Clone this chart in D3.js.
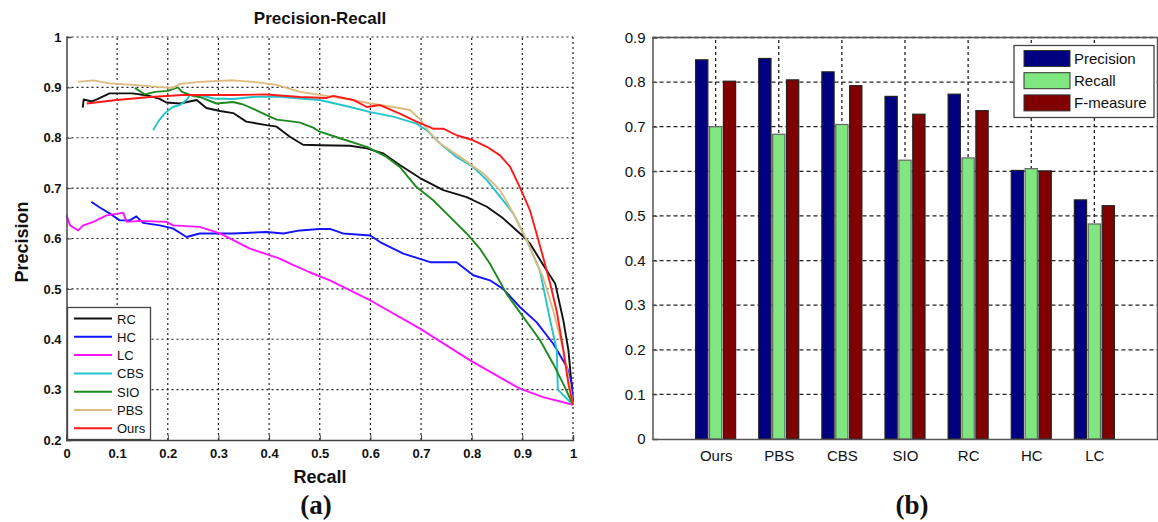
<!DOCTYPE html>
<html>
<head>
<meta charset="utf-8">
<script src="https://cdn.jsdelivr.net/npm/d3@7/dist/d3.min.js"></script>
<style>
  body{margin:0;background:#fff;}
  svg{display:block;font-family:Arial,"Liberation Sans",sans-serif;}
</style>
</head>
<body>
<svg id="chart" width="1158" height="522"></svg>
<script>
// ---- data: (a) precision-recall curves, [recall, precision]
var prNames = ["RC","HC","LC","CBS","SIO","PBS","Ours"];
var prColors = ["#111111","#1414ff","#ff14ff","#22c4c8","#1e8a1e","#dfba80","#ff1a1a"];
var rcCurve = [[0.032,0.86],[0.034,0.876],[0.05,0.872],[0.06,0.876],[0.085,0.888],[0.13,0.888],[0.16,0.884],[0.184,0.877],[0.197,0.87],[0.224,0.868],[0.257,0.875],[0.276,0.859],[0.303,0.853],[0.329,0.849],[0.355,0.832],[0.395,0.825],[0.415,0.822],[0.441,0.802],[0.467,0.786],[0.5,0.785],[0.56,0.784],[0.593,0.779],[0.625,0.769],[0.658,0.746],[0.698,0.72],[0.744,0.696],[0.79,0.682],[0.83,0.663],[0.862,0.64],[0.902,0.604],[0.915,0.59],[0.941,0.548],[0.965,0.51],[0.981,0.437],[0.991,0.378],[0.997,0.312],[1,0.27]];
var hcCurve = [[0.049,0.673],[0.065,0.662],[0.085,0.65],[0.105,0.636],[0.125,0.636],[0.138,0.644],[0.151,0.631],[0.184,0.626],[0.21,0.62],[0.237,0.603],[0.263,0.61],[0.329,0.61],[0.395,0.613],[0.428,0.61],[0.461,0.616],[0.5,0.619],[0.52,0.619],[0.546,0.61],[0.6,0.606],[0.619,0.593],[0.665,0.57],[0.718,0.553],[0.77,0.553],[0.803,0.527],[0.836,0.517],[0.862,0.5],[0.895,0.464],[0.928,0.434],[0.961,0.391],[0.988,0.345],[0.998,0.31],[1,0.27]];
var lcCurve = [[0,0.646],[0.007,0.626],[0.023,0.616],[0.033,0.626],[0.053,0.633],[0.079,0.646],[0.099,0.649],[0.112,0.651],[0.119,0.633],[0.145,0.635],[0.198,0.633],[0.21,0.626],[0.263,0.623],[0.303,0.61],[0.362,0.58],[0.421,0.56],[0.448,0.547],[0.48,0.533],[0.52,0.517],[0.6,0.477],[0.698,0.421],[0.797,0.358],[0.895,0.302],[0.941,0.285],[1,0.27]];
var cbsCurve = [[0.171,0.815],[0.181,0.832],[0.191,0.845],[0.197,0.851],[0.21,0.861],[0.224,0.865],[0.237,0.875],[0.244,0.885],[0.263,0.885],[0.29,0.878],[0.329,0.877],[0.368,0.881],[0.415,0.882],[0.461,0.878],[0.5,0.875],[0.56,0.861],[0.6,0.851],[0.645,0.842],[0.691,0.828],[0.711,0.815],[0.737,0.789],[0.77,0.762],[0.803,0.742],[0.83,0.716],[0.856,0.683],[0.882,0.65],[0.909,0.596],[0.935,0.535],[0.955,0.437],[0.968,0.378],[0.97,0.3],[0.975,0.295],[1,0.27]];
var sioCurve = [[0.135,0.899],[0.155,0.886],[0.175,0.891],[0.2,0.893],[0.22,0.9],[0.228,0.891],[0.25,0.883],[0.263,0.881],[0.296,0.868],[0.329,0.871],[0.349,0.866],[0.372,0.856],[0.395,0.845],[0.415,0.836],[0.448,0.832],[0.461,0.83],[0.487,0.82],[0.5,0.812],[0.54,0.799],[0.593,0.782],[0.632,0.762],[0.658,0.742],[0.691,0.702],[0.724,0.676],[0.757,0.643],[0.79,0.61],[0.816,0.58],[0.836,0.55],[0.869,0.49],[0.902,0.444],[0.935,0.398],[0.961,0.351],[0.981,0.311],[1,0.27]];
var pbsCurve = [[0.023,0.911],[0.053,0.914],[0.085,0.908],[0.132,0.905],[0.178,0.901],[0.21,0.899],[0.224,0.907],[0.263,0.911],[0.329,0.914],[0.369,0.911],[0.415,0.905],[0.461,0.891],[0.5,0.885],[0.56,0.876],[0.6,0.868],[0.645,0.861],[0.678,0.855],[0.698,0.837],[0.718,0.809],[0.737,0.789],[0.777,0.762],[0.823,0.729],[0.856,0.696],[0.882,0.65],[0.909,0.596],[0.941,0.523],[0.961,0.457],[0.981,0.378],[0.991,0.325],[1,0.27]];
var oursCurve = [[0.04,0.868],[0.099,0.875],[0.165,0.881],[0.23,0.885],[0.329,0.885],[0.395,0.886],[0.461,0.881],[0.514,0.879],[0.527,0.883],[0.566,0.875],[0.593,0.861],[0.619,0.865],[0.658,0.848],[0.691,0.832],[0.724,0.818],[0.744,0.818],[0.77,0.805],[0.803,0.795],[0.83,0.782],[0.856,0.765],[0.876,0.742],[0.895,0.702],[0.915,0.656],[0.928,0.61],[0.941,0.563],[0.955,0.51],[0.968,0.455],[0.981,0.378],[0.991,0.311],[1,0.27]];
var prCurves = [rcCurve,hcCurve,lcCurve,cbsCurve,sioCurve,pbsCurve,oursCurve];
var prXTicks = [0,0.1,0.2,0.3,0.4,0.5,0.6,0.7,0.8,0.9,1];
var prYTicks = [0.2,0.3,0.4,0.5,0.6,0.7,0.8,0.9,1];

// ---- data: (b) bar chart
var methods = ["Ours","PBS","CBS","SIO","RC","HC","LC"];
var measures = ["Precision","Recall","F-measure"];
var measureColors = ["#000080","#80e680","#800000"];
var precisionVals = [0.850,0.853,0.823,0.768,0.773,0.602,0.536];
var recallVals    = [0.700,0.683,0.705,0.625,0.630,0.606,0.482];
var fmeasureVals  = [0.802,0.805,0.792,0.728,0.736,0.601,0.523];
var barYTicks = [0,0.1,0.2,0.3,0.4,0.5,0.6,0.7,0.8,0.9];

var svg = d3.select("#chart");
var fmt = function(v){ return String(+v.toFixed(1)); };

//=================== (a)
var x = d3.scaleLinear().domain([0,1]).range([66.5,573]);
var y = d3.scaleLinear().domain([0.2,1]).range([440,37]);
var ga = svg.append("g");

// grid
ga.append("g").selectAll("line").data(prXTicks.slice(1,-1)).enter().append("line")
  .attr("x1",function(d){return x(d);}).attr("x2",function(d){return x(d);})
  .attr("y1",y(0.2)).attr("y2",y(1))
  .attr("stroke","#222").attr("stroke-width",1.2).attr("stroke-dasharray","2,3");
ga.append("g").selectAll("line").data(prYTicks.slice(1,-1)).enter().append("line")
  .attr("x1",x(0)).attr("x2",x(1))
  .attr("y1",function(d){return y(d);}).attr("y2",function(d){return y(d);})
  .attr("stroke","#222").attr("stroke-width",1.2).attr("stroke-dasharray","2,3");
// top / right dotted edges
ga.append("line").attr("x1",x(0)).attr("x2",x(1)).attr("y1",y(1)).attr("y2",y(1))
  .attr("stroke","#222").attr("stroke-width",1.2).attr("stroke-dasharray","2,3");
ga.append("line").attr("x1",x(1)).attr("x2",x(1)).attr("y1",y(1)).attr("y2",y(0.2))
  .attr("stroke","#222").attr("stroke-width",1.2).attr("stroke-dasharray","2,3");

// curves
var line = d3.line().x(function(d){return x(d[0]);}).y(function(d){return y(d[1]);});
ga.append("g").selectAll("path").data(prCurves).enter().append("path")
  .attr("d",line).attr("fill","none")
  .attr("stroke",function(d,i){return prColors[i];})
  .attr("stroke-width",1.9).attr("stroke-linejoin","round");

// axes
var xa = ga.append("g").attr("transform","translate(0,"+y(0.2)+")")
  .call(d3.axisBottom(x).tickValues(prXTicks).tickFormat(fmt).tickSize(-5).tickPadding(9));
var ya = ga.append("g").attr("transform","translate("+x(0)+",0)")
  .call(d3.axisLeft(y).tickValues(prYTicks).tickFormat(fmt).tickSize(-5).tickPadding(5));
[xa,ya].forEach(function(a){
  a.select(".domain").attr("stroke","#444").attr("stroke-width",1.5);
  a.selectAll(".tick line").attr("stroke","#444");
  a.selectAll("text").attr("font-size",13).attr("font-weight","bold").attr("fill","#111")
    .attr("font-family","Arial,'Liberation Sans',sans-serif");
});

// titles
ga.append("text").attr("x",320).attr("y",24).attr("text-anchor","middle")
  .attr("font-size",17).attr("font-weight","bold").attr("fill","#111").text("Precision-Recall");
ga.append("text").attr("x",320).attr("y",483).attr("text-anchor","middle")
  .attr("font-size",18).attr("font-weight","bold").attr("fill","#111").text("Recall");
ga.append("text").attr("transform","translate(28,242) rotate(-90)").attr("text-anchor","middle")
  .attr("font-size",18).attr("font-weight","bold").attr("fill","#111").text("Precision");
ga.append("text").attr("x",316).attr("y",514).attr("text-anchor","middle")
  .attr("font-family","'Liberation Serif','DejaVu Serif',serif")
  .attr("font-size",27).attr("font-weight","bold").attr("fill","#111").text("(a)");

// legend
var lg = ga.append("g");
lg.append("rect").attr("x",67.5).attr("y",307.5).attr("width",83).attr("height",132)
  .attr("fill","#fff").attr("stroke","#444").attr("stroke-width",1.3);
var li = lg.selectAll("g").data(prNames).enter().append("g")
  .attr("transform",function(d,i){return "translate(0,"+(318.5+i*18.3)+")";});
li.append("line").attr("x1",74).attr("x2",112).attr("y1",0).attr("y2",0)
  .attr("stroke",function(d,i){return prColors[i];}).attr("stroke-width",2);
li.append("text").attr("x",117).attr("y",5).attr("font-size",13).attr("fill","#111").text(function(d){return d;});

//=================== (b)
var bx = d3.scaleLinear().domain([0,8]).range([652.5,1157.5]);
var by = d3.scaleLinear().domain([0,0.9]).range([439,37.5]);
var bsub = d3.scaleBand().domain(measures).range([-20,20]).paddingInner(0.12);
var gb = svg.append("g");
var barData = methods.map(function(m,i){
  return {name:m,pos:i+1,vals:[precisionVals[i],recallVals[i],fmeasureVals[i]]};
});

// grid
gb.append("g").selectAll("line").data(barYTicks.slice(1)).enter().append("line")
  .attr("x1",bx(0)).attr("x2",bx(8))
  .attr("y1",function(d){return by(d);}).attr("y2",function(d){return by(d);})
  .attr("stroke","#222").attr("stroke-width",1.3).attr("stroke-dasharray","4,3");
gb.append("g").selectAll("line").data(barData).enter().append("line")
  .attr("x1",function(d){return bx(d.pos);}).attr("x2",function(d){return bx(d.pos);})
  .attr("y1",by(0)).attr("y2",by(0.9))
  .attr("stroke","#222").attr("stroke-width",1.3).attr("stroke-dasharray","3,3");

// bars
var grp = gb.append("g").selectAll("g").data(barData).enter().append("g")
  .attr("transform",function(d){return "translate("+bx(d.pos)+",0)";});
grp.selectAll("rect").data(function(d){return d.vals;}).enter().append("rect")
  .attr("x",function(v,j){return bsub(measures[j]);})
  .attr("width",bsub.bandwidth())
  .attr("y",function(v){return by(v);})
  .attr("height",function(v){return by(0)-by(v);})
  .attr("fill",function(v,j){return measureColors[j];})
  .attr("stroke",function(v,j){return j==1?"#666":"#222";})
  .attr("stroke-width",1.2);

// axes
var bxa = gb.append("g").attr("transform","translate(0,"+by(0)+")")
  .call(d3.axisBottom(bx).tickValues(d3.range(1,8)).tickFormat(function(d){return methods[d-1];}).tickSize(0).tickPadding(11));
var bya = gb.append("g").attr("transform","translate("+bx(0)+",0)")
  .call(d3.axisLeft(by).tickValues(barYTicks).tickFormat(fmt).tickSize(-5).tickPadding(7));
[bxa,bya].forEach(function(a){
  a.select(".domain").attr("stroke","#555").attr("stroke-width",1.5);
  a.selectAll(".tick line").attr("stroke","#555");
  a.selectAll("text").attr("font-size",15).attr("fill","#111")
    .attr("font-family","Arial,'Liberation Sans',sans-serif");
});
gb.append("line").attr("x1",bx(0)).attr("x2",bx(8)).attr("y1",by(0.9)).attr("y2",by(0.9))
  .attr("stroke","#555").attr("stroke-width",1.5);
gb.append("line").attr("x1",bx(8)).attr("x2",bx(8)).attr("y1",by(0.9)).attr("y2",by(0))
  .attr("stroke","#555").attr("stroke-width",1.5);

gb.append("text").attr("x",912).attr("y",514).attr("text-anchor","middle")
  .attr("font-family","'Liberation Serif','DejaVu Serif',serif")
  .attr("font-size",27).attr("font-weight","bold").attr("fill","#111").text("(b)");

// legend
var bl = gb.append("g");
bl.append("rect").attr("x",1014).attr("y",45.5).attr("width",140).attr("height",72)
  .attr("fill","#fff").attr("stroke","#444").attr("stroke-width",1.3);
var bi = bl.selectAll("g").data(measures).enter().append("g")
  .attr("transform",function(d,i){return "translate(0,"+(58.5+i*22.2)+")";});
bi.append("rect").attr("x",1024).attr("y",-8).attr("width",46).attr("height",16)
  .attr("fill",function(d,i){return measureColors[i];}).attr("stroke","#333").attr("stroke-width",1);
bi.append("text").attr("x",1074).attr("y",5.5).attr("font-size",15).attr("fill","#111").text(function(d){return d;});
</script>
</body>
</html>
